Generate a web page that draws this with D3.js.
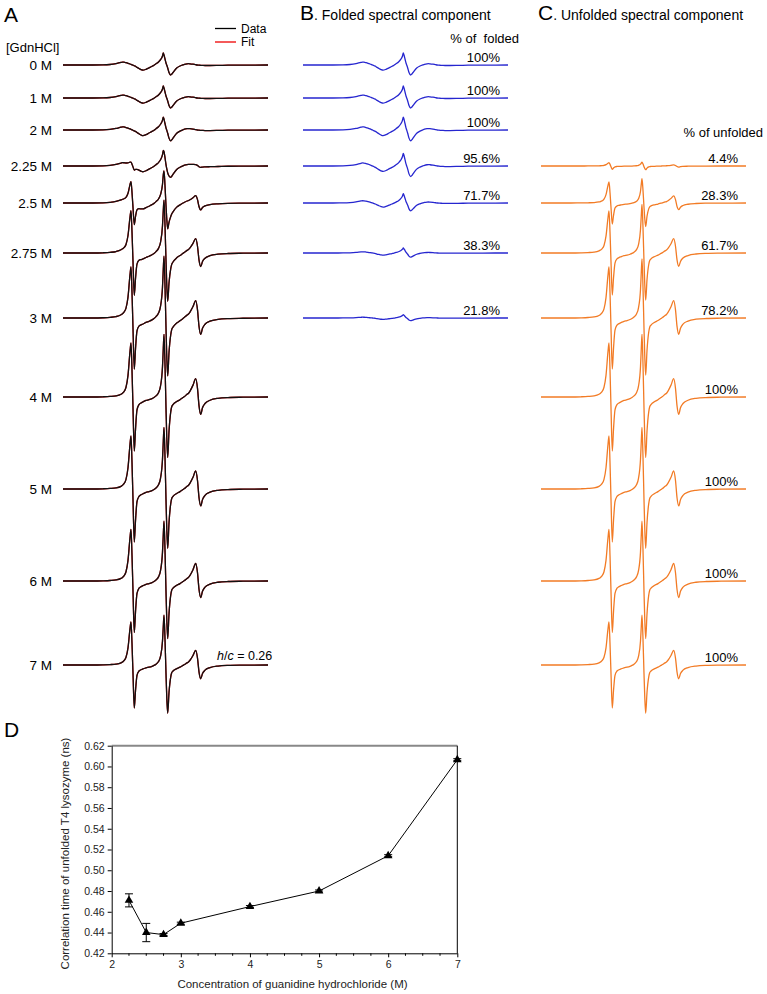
<!DOCTYPE html>
<html><head><meta charset="utf-8">
<script src="https://cdn.jsdelivr.net/npm/d3@7"></script>
<style>
html,body{margin:0;padding:0;background:#fff;}
svg{display:block;font-family:"Liberation Sans",Arial,sans-serif;}
</style></head>
<body><svg id="chart" width="767" height="994"></svg>
<script>
// ---------------- DATA ----------------
const concentrations = ["0 M","1 M","2 M","2.25 M","2.5 M","2.75 M","3 M","4 M","5 M","6 M","7 M"];
const foldedPercent   = ["100%","100%","100%","95.6%","71.7%","38.3%","21.8%",null,null,null,null];
const unfoldedPercent = [null,null,null,"4.4%","28.3%","61.7%","78.2%","100%","100%","100%","100%"];
// relative amplitude of each spectral component in each row
const foldedAmplitude   = [1.0,1.0,1.08,1.05,0.78,0.42,0.27,0,0,0,0];
const unfoldedAmplitude = [0,0,0,0.066,0.42,0.84,1.02,1.08,1.06,1.03,0.86];
// spectral templates (field offset, derivative intensity)
const field = [0,30,40,47,53,58,59.5,61,63,65,67,68,69,70,71.3,72.5,74,76,78,80,83,86,89,91,93,95.5,97.5,99.5,100.3,101,102,103,103.7,104.7,106,107.7,108.7,110,113.7,117,120,121.5,124,125.5,127,130,132.7,134.5,136,137.7,139.5,142,147,155,165,180,205];
const foldedSignal = [0,0,0.1,0.5,1.4,2.6,2.9,2.8,2.3,1.7,1.0,0.6,0.2,-0.2,-0.8,-1.3,-2.4,-3.5,-4.6,-5.2,-4.3,-2.8,-1.3,-0.2,1.2,3.0,5.3,9,12,10,6,2,0,-3,-7.5,-10,-9.2,-7.5,-3,-1,0.2,0.7,1.2,1.3,1.2,0.8,0.3,0,-0.2,-0.3,-0.4,-0.5,-0.5,-0.4,-0.2,-0.1,0];
const unfoldedSignal = [0,0,0.2,0.5,1.0,2.5,3.5,5,9,20,42,50,25,-10,-50,-30,-12,-7,-5.5,-4.5,-3.2,-2.5,-1.5,-0.5,1,4,10,28,45,58,30,-10,-35,-56,-32,-14,-9,-7,-4.2,-2.5,-0.5,0.5,2.5,3.5,5.5,11,17,8,-8,-16,-10,-6,-3,-1.2,-0.5,-0.2,0];
// panel D
const gdnConc  = [2.25,2.5,2.75,3,4,5,6,7];
const corrTime = [0.471,0.440,0.438,0.449,0.465,0.480,0.514,0.6065];
const corrErr  = [0.0063,0.0088,0.001,0.001,0.001,0.001,0.001,0.001];
const yTicksD = [0.42,0.44,0.46,0.48,0.50,0.52,0.54,0.56,0.58,0.60,0.62];
const xTicksD = [2,3,4,5,6,7];

// ---------------- LAYOUT ----------------
const rowBaseline = [65,98,130,166,203,253,318,397,489,581,665];
const panelX = {A:63, B:303, C:541};
const specWidth = 205;
const FONT = '"Liberation Sans",Arial,sans-serif';
const BLUE = "#2626cf", ORANGE = "#f27b25";

const svg = d3.select("#chart");

function spectrum(x0, base, series) {
  const xs = d3.scaleLinear().domain([0,205]).range([x0, x0+specWidth]);
  const ys = d3.scaleLinear().domain([-60,60]).range([base+60, base-60]);
  const pts = field.map((f,i)=>[f, series(i)]);
  return d3.line().x(d=>xs(d[0])).y(d=>ys(d[1])).curve(d3.curveMonotoneX)(pts);
}

// titles
svg.append("text").attr("x",4).attr("y",22).attr("font-size",21).text("A");
svg.append("text").attr("x",300).attr("y",20).attr("font-size",14)
  .html('<tspan font-size="21">B</tspan>. Folded spectral component');
svg.append("text").attr("x",538).attr("y",20).attr("font-size",14)
  .html('<tspan font-size="21">C</tspan>. Unfolded spectral component');
svg.append("text").attr("x",6).attr("y",52).attr("font-size",13).text("[GdnHCl]");
svg.append("text").attr("x",519).attr("y",43).attr("font-size",13).attr("text-anchor","end")
  .style("white-space","pre").text("% of  folded");
svg.append("text").attr("x",763).attr("y",137).attr("font-size",13).attr("text-anchor","end").text("% of unfolded");

// legend
svg.append("line").attr("x1",215).attr("x2",236).attr("y1",28.5).attr("y2",28.5).attr("stroke","#000").attr("stroke-width",1.3);
svg.append("text").attr("x",241).attr("y",32.5).attr("font-size",12).text("Data");
svg.append("line").attr("x1",215).attr("x2",236).attr("y1",42).attr("y2",42).attr("stroke","#e00").attr("stroke-width",1.3);
svg.append("text").attr("x",241).attr("y",46).attr("font-size",12).text("Fit");

// panel A
concentrations.forEach((c,r)=>{
  const base = rowBaseline[r];
  svg.append("text").attr("x",52).attr("y",base+5).attr("font-size",13.5).attr("text-anchor","end").text(c);
  const comb = i => foldedAmplitude[r]*foldedSignal[i] + unfoldedAmplitude[r]*unfoldedSignal[i];
  svg.append("path").attr("d",spectrum(panelX.A,base,comb)).attr("fill","none").attr("stroke","#d00").attr("stroke-width",1.3);
  svg.append("path").attr("d",spectrum(panelX.A,base,comb)).attr("fill","none").attr("stroke","#111").attr("stroke-width",1.3);
});
svg.append("text").attr("x",217).attr("y",660).attr("font-size",12.5)
  .html('<tspan font-style="italic">h</tspan>/<tspan font-style="italic">c</tspan> = 0.26');

// panel B
concentrations.forEach((c,r)=>{
  if (foldedPercent[r]===null) return;
  const base = rowBaseline[r];
  svg.append("path").attr("d",spectrum(panelX.B,base,i=>foldedAmplitude[r]*foldedSignal[i]))
    .attr("fill","none").attr("stroke",BLUE).attr("stroke-width",1.3);
  svg.append("text").attr("x",500).attr("y",base-3.5).attr("font-size",13).attr("text-anchor","end").text(foldedPercent[r]);
});
// panel C
concentrations.forEach((c,r)=>{
  if (unfoldedPercent[r]===null) return;
  const base = rowBaseline[r];
  svg.append("path").attr("d",spectrum(panelX.C,base,i=>unfoldedAmplitude[r]*unfoldedSignal[i]))
    .attr("fill","none").attr("stroke",ORANGE).attr("stroke-width",1.3);
  svg.append("text").attr("x",738).attr("y",base-3.5).attr("font-size",13).attr("text-anchor","end").text(unfoldedPercent[r]);
});

// ---------------- PANEL D ----------------
svg.append("text").attr("x",4).attr("y",737).attr("font-size",21).text("D");
const L=111.7, R=457.3, T=745.7, B=953.3;
const xD = d3.scaleLinear().domain([2,7]).range([L,R]);
const yD = d3.scaleLinear().domain([0.42,0.62]).range([B,T]);
const gD = svg.append("g");
gD.append("line").attr("x1",L).attr("x2",R).attr("y1",T).attr("y2",T).attr("stroke","#888").attr("stroke-width",2);
gD.append("line").attr("x1",R).attr("x2",R).attr("y1",T).attr("y2",B).attr("stroke","#000").attr("stroke-width",1);
const yAx = gD.append("g").attr("transform",`translate(${L},0)`)
  .call(d3.axisLeft(yD).tickValues(yTicksD).tickFormat(d3.format(".2f")).tickSize(4).tickSizeOuter(0));
const xAx = gD.append("g").attr("transform",`translate(0,${B})`)
  .call(d3.axisBottom(xD).tickValues(xTicksD).tickFormat(d3.format("d")).tickSize(4).tickSizeOuter(0));
const minor = d3.range(2,7.001,0.25).filter(v=>Math.abs(v-Math.round(v))>0.01);
xAx.selectAll(".minor").data(minor).enter().append("line").attr("class","minor")
  .attr("x1",d=>xD(d)).attr("x2",d=>xD(d)).attr("y1",0).attr("y2",2.5).attr("stroke","#000");
[yAx,xAx].forEach(a=>{
  a.selectAll("text").attr("font-size",10.5).attr("font-family",FONT).attr("fill","#222");
  a.selectAll("path,line").attr("stroke","#000");
});
yAx.selectAll("text").attr("x",-7);
xAx.selectAll("text").attr("y",7);
svg.append("text").attr("transform",`translate(69,${(T+B)/2+4}) rotate(-90)`).attr("text-anchor","middle")
  .attr("font-size",11.5).attr("fill","#222").text("Correlation time of unfolded T4 lysozyme (ns)");
svg.append("text").attr("x",(L+R)/2+8).attr("y",988).attr("text-anchor","middle")
  .attr("font-size",11.5).attr("fill","#222").text("Concentration of guanidine hydrochloride (M)");
gD.append("path").attr("d",d3.line().x((d,i)=>xD(gdnConc[i])).y(d=>yD(d))(corrTime))
  .attr("fill","none").attr("stroke","#000").attr("stroke-width",1);
const eb = gD.selectAll(".eb").data(corrTime).enter().append("g");
eb.append("line").attr("x1",(d,i)=>xD(gdnConc[i])).attr("x2",(d,i)=>xD(gdnConc[i]))
  .attr("y1",(d,i)=>yD(d-corrErr[i])).attr("y2",(d,i)=>yD(d+corrErr[i])).attr("stroke","#000");
eb.append("line").attr("x1",(d,i)=>xD(gdnConc[i])-4).attr("x2",(d,i)=>xD(gdnConc[i])+4)
  .attr("y1",(d,i)=>yD(d-corrErr[i])).attr("y2",(d,i)=>yD(d-corrErr[i])).attr("stroke","#000");
eb.append("line").attr("x1",(d,i)=>xD(gdnConc[i])-4).attr("x2",(d,i)=>xD(gdnConc[i])+4)
  .attr("y1",(d,i)=>yD(d+corrErr[i])).attr("y2",(d,i)=>yD(d+corrErr[i])).attr("stroke","#000");
gD.selectAll(".mk").data(corrTime).enter().append("path")
  .attr("transform",(d,i)=>`translate(${xD(gdnConc[i])},${yD(d)})`)
  .attr("d",d3.symbol(d3.symbolTriangle,32)).attr("fill","#000");
</script></body></html>
